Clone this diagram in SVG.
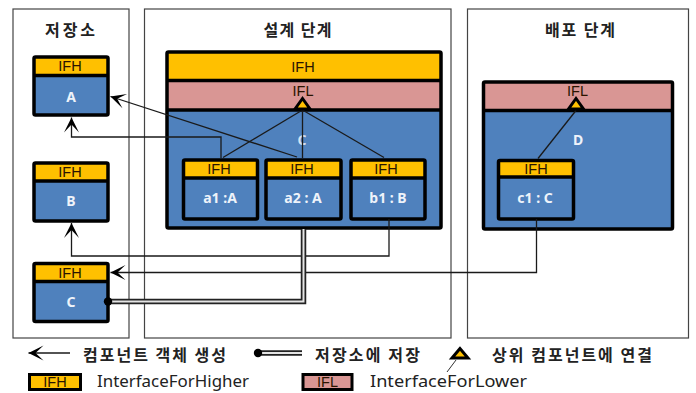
<svg xmlns="http://www.w3.org/2000/svg" width="696" height="393" viewBox="0 0 696 393">
<defs>
<style>
.panel{fill:#fff;stroke:#444;stroke-width:1.2}
.title{font-family:"Noto Sans CJK KR","Noto Sans",sans-serif;font-size:16px;font-weight:bold;fill:#222;text-anchor:middle}
.leg{font-family:"Noto Sans CJK KR","Noto Sans",sans-serif;font-size:16px;font-weight:bold;fill:#222}
.legE{font-family:"Noto Sans","Liberation Sans",sans-serif;font-size:16.5px;fill:#222}
.body{fill:#4F81BD}
.ifh{fill:#FFC000}
.ifl{fill:#D99694}
.frame{fill:none;stroke:#000;stroke-width:3.5;stroke-linejoin:round}
.sep{stroke:#000;stroke-width:3.5}
.itf{font-family:"Liberation Sans",Arial,sans-serif;font-size:14.5px;fill:#2a1400;text-anchor:middle}
.lbl{font-family:"Noto Sans","Liberation Sans",sans-serif;font-size:14px;font-weight:bold;fill:#eef3fa;text-anchor:middle}
.conn{fill:none;stroke:#1a1a1a;stroke-width:1.3}
.dbl-o{fill:none;stroke:#222;stroke-width:5.5}
.dbl-i{fill:none;stroke:#e4e4e4;stroke-width:2}
.tri{fill:#FFC000;stroke:#000;stroke-width:3;stroke-linejoin:miter}
</style>
<marker id="arr" viewBox="-16 -9 18 18" refX="0" refY="0" markerWidth="18" markerHeight="18" markerUnits="userSpaceOnUse" orient="auto">
<path d="M0,0 L-15,-7.5 L-7,0 L-15,7.5 Z" fill="#000"/>
</marker>
</defs>

<g id="panel-repo">
<rect class="panel" x="13" y="9" width="116" height="329"/>
<text class="title" x="70" y="36" textLength="50">저장소</text>
</g>
<g id="panel-design">
<rect class="panel" x="144.5" y="9" width="306.5" height="329"/>
<text class="title" x="297.5" y="36" textLength="68">설계 단계</text>
</g>
<g id="panel-deploy">
<rect class="panel" x="467.5" y="9" width="221" height="329"/>
<text class="title" x="580" y="36" textLength="70">배포 단계</text>
</g>

<g id="node-A">
<rect class="body" x="34" y="57" width="74" height="58"/>
<rect class="ifh" x="34" y="57" width="74" height="18"/>
<line class="sep" x1="34" y1="75.5" x2="108" y2="75.5"/>
<rect class="frame" x="34" y="57" width="74" height="58" rx="1.5"/>
<text class="itf" x="70" y="71">IFH</text>
<text class="lbl" x="71" y="101.5">A</text>
</g>
<g id="node-B">
<rect class="body" x="34" y="163" width="74" height="58"/>
<rect class="ifh" x="34" y="163" width="74" height="18"/>
<line class="sep" x1="34" y1="181" x2="108" y2="181"/>
<rect class="frame" x="34" y="163" width="74" height="58" rx="1.5"/>
<text class="itf" x="70" y="177">IFH</text>
<text class="lbl" x="71" y="205.5">B</text>
</g>
<g id="node-C-repo">
<rect class="body" x="34" y="263.5" width="74" height="58"/>
<rect class="ifh" x="34" y="263.5" width="74" height="18"/>
<line class="sep" x1="34" y1="281.5" x2="108" y2="281.5"/>
<rect class="frame" x="34" y="263.5" width="74" height="58" rx="1.5"/>
<text class="itf" x="70" y="277.5">IFH</text>
<text class="lbl" x="71" y="306.5">C</text>
</g>

<g id="node-C">
<rect class="body" x="167" y="52" width="274" height="176"/>
<rect class="ifh" x="167" y="52" width="274" height="28.5"/>
<rect class="ifl" x="167" y="80.5" width="274" height="29.5"/>
<line class="sep" x1="167" y1="80.5" x2="441" y2="80.5"/>
<line class="sep" x1="167" y1="110" x2="441" y2="110"/>
<rect class="frame" x="167" y="52" width="274" height="176" rx="1.5"/>
<text class="itf" x="303" y="71.5">IFH</text>
<text class="itf" x="303" y="96">IFL</text>
<text class="lbl" x="302" y="145" fill-opacity="0.85">C</text>
</g>
<g id="node-a1">
<rect class="body" x="183.5" y="160" width="74" height="59"/>
<rect class="ifh" x="183.5" y="160" width="74" height="18"/>
<line class="sep" x1="183.5" y1="178" x2="257.5" y2="178"/>
<rect class="frame" x="183.5" y="160" width="74" height="59" rx="1.5"/>
<text class="itf" x="219" y="174">IFH</text>
<text class="lbl" x="220" y="203">a1 :A</text>
</g>
<g id="node-a2">
<rect class="body" x="266" y="160" width="75" height="59"/>
<rect class="ifh" x="266" y="160" width="75" height="18"/>
<line class="sep" x1="266" y1="178" x2="341" y2="178"/>
<rect class="frame" x="266" y="160" width="75" height="59" rx="1.5"/>
<text class="itf" x="302" y="174">IFH</text>
<text class="lbl" x="303" y="203">a2 : A</text>
</g>
<g id="node-b1">
<rect class="body" x="351" y="160" width="74" height="59"/>
<rect class="ifh" x="351" y="160" width="74" height="18"/>
<line class="sep" x1="351" y1="178" x2="425" y2="178"/>
<rect class="frame" x="351" y="160" width="74" height="59" rx="1.5"/>
<text class="itf" x="386" y="174">IFH</text>
<text class="lbl" x="388" y="203">b1 : B</text>
</g>

<g id="node-D">
<rect class="body" x="483.5" y="82" width="189" height="147"/>
<rect class="ifl" x="483.5" y="82" width="189" height="28.5"/>
<line class="sep" x1="483.5" y1="110.5" x2="672.5" y2="110.5"/>
<rect class="frame" x="483.5" y="82" width="189" height="147" rx="1.5"/>
<text class="itf" x="577.5" y="96">IFL</text>
<text class="lbl" x="578" y="145">D</text>
</g>
<g id="node-c1">
<rect class="body" x="498.5" y="160.5" width="75" height="58.5"/>
<rect class="ifh" x="498.5" y="160.5" width="75" height="17"/>
<line class="sep" x1="498.5" y1="177" x2="573.5" y2="177"/>
<rect class="frame" x="498.5" y="160.5" width="75" height="58.5" rx="1.5"/>
<text class="itf" x="536" y="173.5">IFH</text>
<text class="lbl" x="535" y="203">c1 : C</text>
</g>

<g id="connectors">
<path class="conn" d="M297,157 L110.5,96.5" marker-end="url(#arr)"/>
<path class="conn" d="M221,158 V137 H71.5 V117.5" marker-end="url(#arr)"/>
<path class="conn" d="M302.5,110 L223,157.5"/>
<path class="conn" d="M302.5,110 V158"/>
<path class="conn" d="M302.5,110 L384,157.5"/>
<path class="conn" d="M576,110.5 L538,158.5"/>
<path class="conn" d="M389,219 V256 H71.5 V223" marker-end="url(#arr)"/>
<path class="conn" d="M536.5,219 V272.5 H110.5" marker-end="url(#arr)"/>
<path class="dbl-o" d="M303.5,229 V301.5 H108"/>
<path class="dbl-i" d="M303.5,229 V301.5 H108"/>
<circle cx="108" cy="301.5" r="4.2" fill="#000"/>
<path class="tri" d="M302.5,98.5 L295,109 L310,109 Z"/>
<path class="tri" d="M576,98.5 L568.5,109 L583.5,109 Z"/>
</g>

<g id="legend">
<path class="conn" d="M70,353 H28.5" marker-end="url(#arr)"/>
<text class="leg" x="83" y="361" textLength="143">컴포넌트 객체 생성</text>
<path class="dbl-o" d="M258,353 H302"/>
<path class="dbl-i" d="M260,353 H302"/>
<circle cx="258" cy="353" r="4.2" fill="#000"/>
<text class="leg" x="315" y="361" textLength="105">저장소에 저장</text>
<path d="M456,360 L447,372" stroke="#333" stroke-width="1"/>
<path class="tri" d="M460,348.5 L452,358 L468,358 Z"/>
<text class="leg" x="492" y="361" textLength="160">상위 컴포넌트에 연결</text>
<rect class="ifh" x="29.5" y="374.5" width="51" height="15" stroke="#000" stroke-width="3"/>
<text class="itf" x="55" y="387">IFH</text>
<text class="legE" x="97" y="387" textLength="152" lengthAdjust="spacingAndGlyphs">InterfaceForHigher</text>
<rect class="ifl" x="303" y="374.5" width="49" height="15" stroke="#000" stroke-width="3"/>
<text class="itf" x="327.5" y="387">IFL</text>
<text class="legE" x="370" y="387" textLength="157" lengthAdjust="spacingAndGlyphs">InterfaceForLower</text>
</g>
</svg>
